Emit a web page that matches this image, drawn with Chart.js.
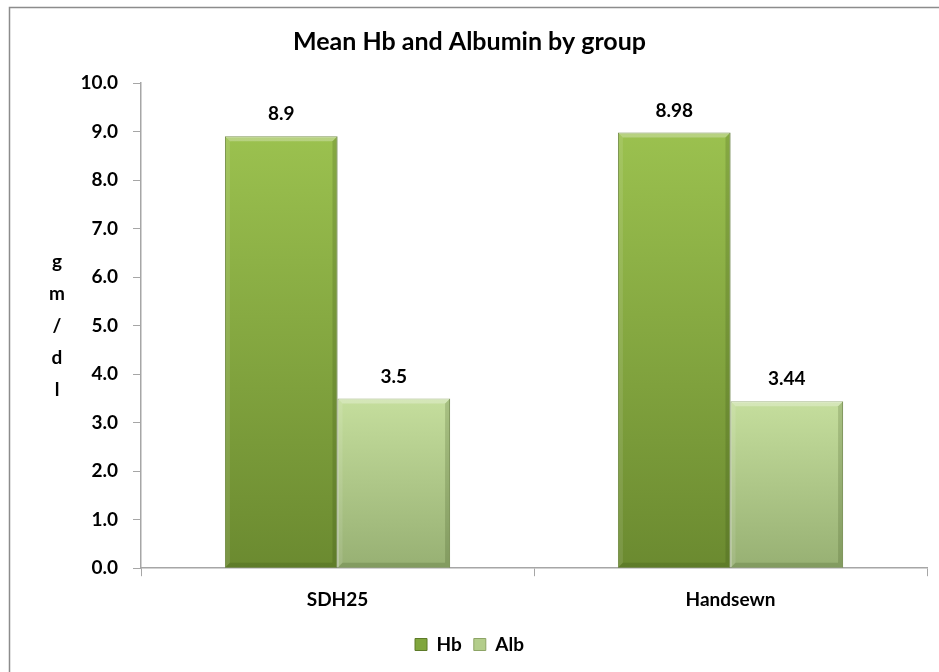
<!DOCTYPE html>
<html>
<head>
<meta charset="utf-8">
<title>Mean Hb and Albumin by group</title>
<script src="https://cdn.jsdelivr.net/npm/chart.js@4.4.1/dist/chart.umd.min.js"></script>
<style>
  html, body { margin: 0; padding: 0; background: #fff; }
  #wrap { position: relative; width: 939px; height: 672px; }
</style>
</head>
<body>
<div id="wrap"><canvas id="main-chart" width="939" height="672"></canvas></div>
<script>
// ---- Data ----
const groups = ["SDH25", "Handsewn"];
const hbValues = [8.9, 8.98];
const albValues = [3.5, 3.44];
const hbLabels = ["8.9", "8.98"];
const albLabels = ["3.5", "3.44"];
const yAxisLetters = ["g", "m", "/", "d", "l"];

const FONT = "Lato, 'Open Sans', sans-serif";

// vertical gradient running from the bar's own top down to the baseline
function barGradient(c, top, bottom) {
  const chart = c.chart;
  const y = chart.scales && chart.scales.y;
  if (!chart.chartArea || !y || c.raw == null) return top;
  const yTop = y.getPixelForValue(c.raw);
  const g = chart.ctx.createLinearGradient(0, yTop, 0, y.getPixelForValue(0));
  g.addColorStop(0, top);
  g.addColorStop(1, bottom);
  return g;
}

// outer frame + stacked y title
const framePlugin = {
  id: "frame",
  beforeDraw(chart) {
    const c = chart.ctx;
    c.save();
    c.fillStyle = "#fff";
    c.fillRect(0, 0, chart.width, chart.height);
    c.strokeStyle = "#8c8c8c";
    c.lineWidth = 1.5;
    c.strokeRect(9.5, 7.5, chart.width + 10, chart.height + 10);
    c.restore();
  },
  afterDraw(chart) {
    const c = chart.ctx;
    const y = chart.scales.y;
    const mid = (y.top + y.bottom) / 2;
    c.save();
    c.fillStyle = "#000";
    c.font = "bold 19px " + FONT;
    c.textAlign = "center";
    c.textBaseline = "middle";
    yAxisLetters.forEach((ch, i) => {
      c.fillText(ch, 57, mid + (i - 2) * 32);
    });
    c.restore();
  },
};

// value labels above bars + bevel shading on the edges
const valueLabelPlugin = {
  id: "valueLabels",
  afterDatasetsDraw(chart) {
    const c = chart.ctx;
    c.save();
    chart.data.datasets.forEach((ds, di) => {
      const meta = chart.getDatasetMeta(di);
      meta.data.forEach((bar, i) => {
        const l = bar.x - bar.width / 2;
        const r = bar.x + bar.width / 2;
        const t = bar.y;
        const b = bar.base;
        const e = 5;
        // top bevel (light)
        c.fillStyle = "rgba(255,255,255,0.28)";
        c.beginPath();
        c.moveTo(l, t); c.lineTo(r, t); c.lineTo(r - e, t + e); c.lineTo(l + e, t + e);
        c.closePath(); c.fill();
        // left bevel (slightly light)
        c.fillStyle = "rgba(255,255,255,0.10)";
        c.beginPath();
        c.moveTo(l, t); c.lineTo(l + e, t + e); c.lineTo(l + e, b - e); c.lineTo(l, b);
        c.closePath(); c.fill();
        // right + bottom bevel (dark)
        c.fillStyle = "rgba(40,60,10,0.18)";
        c.beginPath();
        c.moveTo(r, t); c.lineTo(r, b); c.lineTo(r - e, b - e); c.lineTo(r - e, t + e);
        c.closePath(); c.fill();
        c.beginPath();
        c.moveTo(l, b); c.lineTo(r, b); c.lineTo(r - e, b - e); c.lineTo(l + e, b - e);
        c.closePath(); c.fill();
        // value label
        c.fillStyle = "#000";
        c.font = "bold 19px " + FONT;
        c.textAlign = "center";
        c.textBaseline = "middle";
        c.fillText(ds.valueLabels[i], bar.x, bar.y - 22);
      });
    });
    c.restore();
  },
};

const ctx = document.getElementById("main-chart").getContext("2d");
new Chart(ctx, {
  type: "bar",
  data: {
    labels: groups,
    datasets: [
      {
        label: "Hb",
        data: hbValues,
        valueLabels: hbLabels,
        backgroundColor: (c) => barGradient(c, "#9bc14f", "#6b8a30"),
        borderColor: "#5d7a28",
        borderWidth: 1,
        categoryPercentage: 0.573,
        barPercentage: 1.0,
      },
      {
        label: "Alb",
        data: albValues,
        valueLabels: albLabels,
        backgroundColor: (c) => barGradient(c, "#c5de9d", "#97b073"),
        borderColor: "#8aa263",
        borderWidth: 1,
        categoryPercentage: 0.573,
        barPercentage: 1.0,
      },
    ],
  },
  options: {
    responsive: false,
    animation: false,
    devicePixelRatio: 1,
    layout: { padding: { left: 12, right: 12, top: 0, bottom: 8 } },
    plugins: {
      title: {
        display: true,
        text: "Mean Hb and Albumin by group",
        color: "#000",
        font: { family: FONT, size: 25, weight: "bold" },
        padding: { top: 27, bottom: 26 },
      },
      legend: {
        position: "bottom",
        labels: {
          color: "#000",
          font: { family: FONT, size: 19, weight: "bold" },
          boxWidth: 12,
          boxHeight: 12,
          padding: 12,
          generateLabels(chart) {
            return chart.data.datasets.map((ds, i) => ({
              text: ds.label,
              fillStyle: i === 0 ? "#80a63d" : "#b3cd8b",
              strokeStyle: i === 0 ? "#5d7a28" : "#8da466",
              lineWidth: 1,
              datasetIndex: i,
            }));
          },
        },
      },
      tooltip: { enabled: false },
    },
    scales: {
      x: {
        grid: {
          display: true,
          drawOnChartArea: false,
          drawTicks: true,
          tickLength: 8,
          color: "#a6a6a6",
        },
        border: { color: "#a6a6a6", width: 1.5 },
        ticks: {
          color: "#000",
          font: { family: FONT, size: 19, weight: "bold" },
          padding: 12,
        },
      },
      y: {
        min: 0,
        max: 10,
        afterFit(scale) { scale.width = 129; },
        grid: {
          display: true,
          drawOnChartArea: false,
          drawTicks: true,
          tickLength: 8,
          color: "#a6a6a6",
        },
        border: { color: "#a6a6a6", width: 1.5 },
        ticks: {
          stepSize: 1,
          color: "#000",
          font: { family: FONT, size: 19, weight: "bold" },
          padding: 15,
          callback: (v) => v.toFixed(1),
        },
      },
    },
  },
  plugins: [framePlugin, valueLabelPlugin],
});
</script>
</body>
</html>
